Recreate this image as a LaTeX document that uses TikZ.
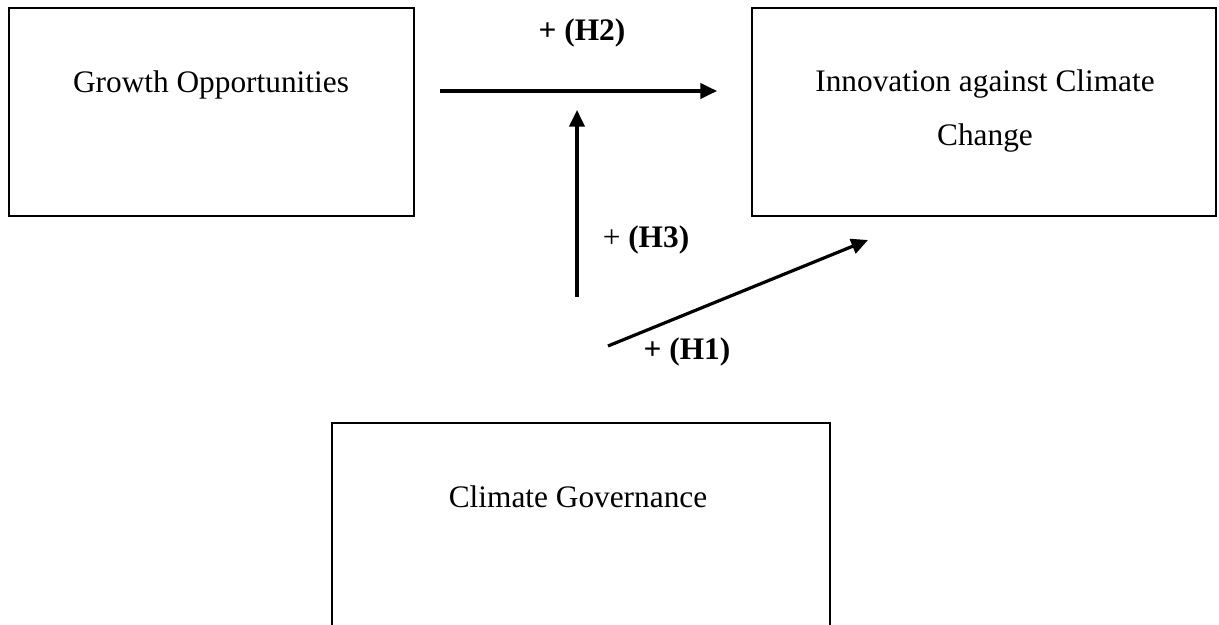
\documentclass[tikz,border=0pt]{standalone}
\usepackage{fontspec}
\setmainfont{Liberation Serif}
\usetikzlibrary{arrows.meta}

\begin{document}
\begin{tikzpicture}[x=0.75pt,y=0.75pt,yscale=-1,xscale=1,
  box/.style={draw, line width=1.5pt, rectangle, inner sep=0pt},
  lbl/.style={inner sep=0.75pt, align=center, font=\fontsize{23.5}{40}\selectfont},
  arr/.style={line width=2.4pt, -{Triangle[length=12.5pt,width=11.5pt]}}]
\useasboundingbox (0,0) rectangle (1219,624);
\clip (0,0) rectangle (1219,624);

%Shape: Rectangle
\node [box, minimum width=303.75pt, minimum height=156pt] (growth) at (211.5,112) {};
%Shape: Rectangle
\node [box, minimum width=348pt, minimum height=156pt] (innov) at (984,112) {};
%Shape: Rectangle (bottom side falls outside the page)
\node [box, minimum width=373.5pt, minimum height=162.75pt] (gov) at (581,531.5) {};

% Text Node
\node [lbl] (growthText) at (211,85) {Growth Opportunities};
% Text Node
\node [lbl] (innovText) at (985,111) {Innovation against Climate\\Change};
% Text Node
\node [lbl] (govText) at (578,497) {Climate Governance};

%Straight Lines
\coordinate (hTwoStart) at (440,91);
\coordinate (hTwoEnd) at (717,91);
\draw [arr] (hTwoStart) -- (hTwoEnd);
%Straight Lines
\coordinate (hThreeStart) at (577,297);
\coordinate (hThreeEnd) at (577,110);
\draw [arr] (hThreeStart) -- (hThreeEnd);
%Straight Lines
\coordinate (hOneStart) at (608,346);
\coordinate (hOneEnd) at (868,240);
\draw [arr] (hOneStart) -- (hOneEnd);

% Text Node
\node [lbl] (hTwoText) at (582,33) {\textbf{+ (H2)}};
% Text Node
\node [lbl] (hThreeText) at (646,240) {+ \textbf{(H3)}};
% Text Node
\node [lbl] (hOneText) at (687,352) {\textbf{+ (H1)}};

\end{tikzpicture}
\end{document}
